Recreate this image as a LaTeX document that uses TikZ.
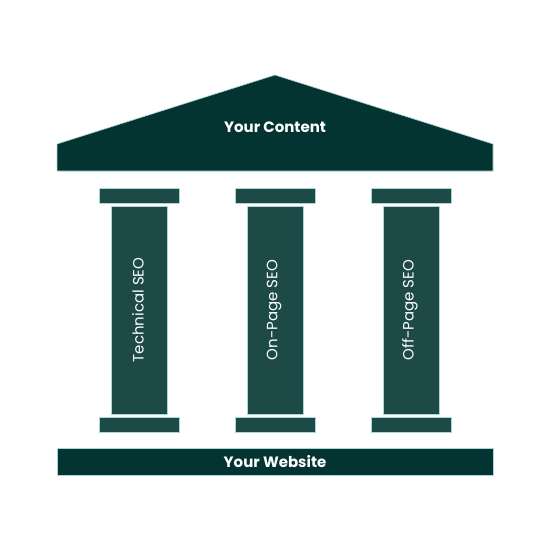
\documentclass[tikz,border=0pt]{standalone}
\usepackage{fontspec}
\setmainfont{Poppins}
\definecolor{roofc}{RGB}{4,52,50}
\definecolor{pillc}{RGB}{29,74,71}
\definecolor{edgec}{RGB}{170,215,215}
\begin{document}
\begin{tikzpicture}[x=1pt,y=-1pt,
  roofshape/.style={fill=roofc,draw=edgec,line width=0.6pt},
  pillshape/.style={fill=pillc,draw=edgec,line width=0.6pt},
  title/.style={text=white,font=\bfseries\fontsize{15}{18}\selectfont},
  pilltext/.style={text=white,font=\fontsize{15}{18}\selectfont,rotate=90}]
\useasboundingbox[fill=white] (0,0) rectangle (550,550);
% roof
\draw[roofshape] (57,171) -- (57,144) -- (275,75) -- (493,144) -- (493,171) -- cycle;
\node[title] (content) at (275,127) {Your Content};
% pillars
\foreach \cx/\lab/\nm in {139/Technical SEO/a, 275/On-Page SEO/b, 411/Off-Page SEO/c}{
  \draw[pillshape] (\cx-40,188) rectangle (\cx+40,203);
  \draw[pillshape] (\cx-28,206) rectangle (\cx+28,414);
  \draw[pillshape] (\cx-40,417) rectangle (\cx+40,432);
  \node[pilltext] (\nm) at (\cx-1,310) {\lab};
}
% foundation
\draw[roofshape] (57,448) rectangle (493,475);
\node[title] (site) at (275,462) {Your Website};
\end{tikzpicture}
\end{document}
